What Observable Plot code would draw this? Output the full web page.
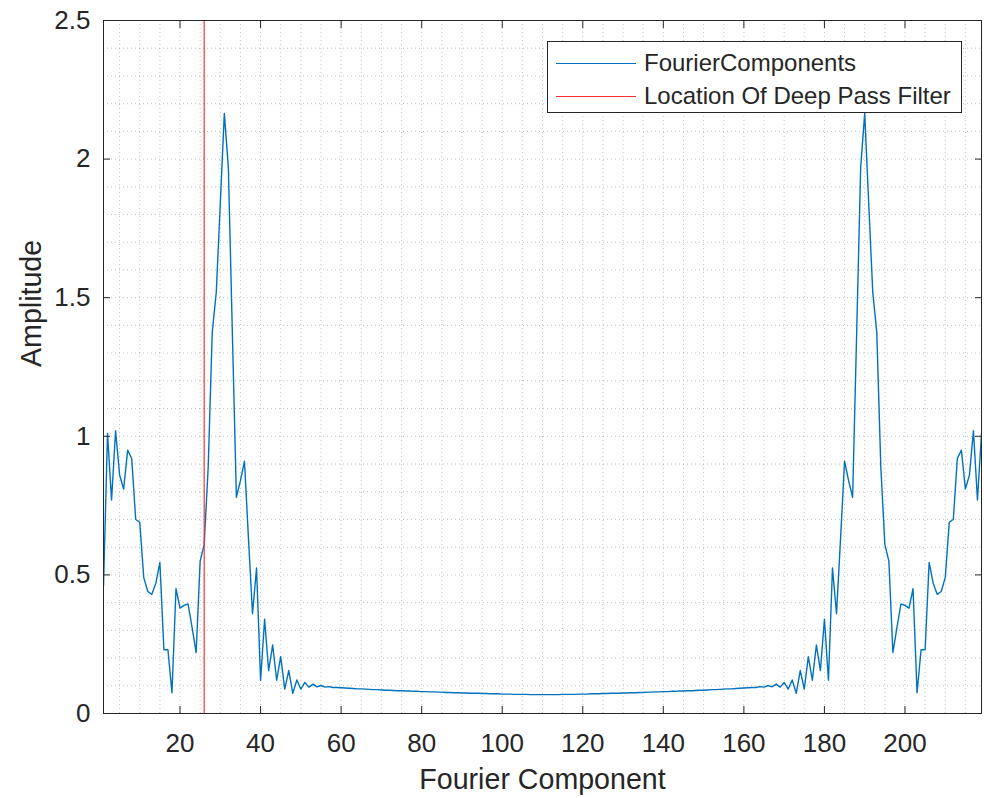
<!DOCTYPE html>
<html>
<head>
<meta charset="utf-8">
<script src="https://cdn.jsdelivr.net/npm/d3@7"></script>
<script src="https://cdn.jsdelivr.net/npm/@observablehq/plot@0.6"></script>
<style>
  html, body { margin: 0; padding: 0; background: #fff; }
  #wrap { position: relative; width: 984px; height: 798px; font-family: "Liberation Sans", Arial, Helvetica, sans-serif; color: #262626; }
  #legend { position: absolute; left: 547px; top: 41px; width: 413px; height: 70px; border: 1px solid #262626; background: #fff; }
  .row { position: absolute; left: 0; height: 30px; display: flex; align-items: center; }
  .swatch { width: 80px; height: 0; margin-left: 8px; margin-right: 8px; }
  .lab { font-size: 24px; white-space: nowrap; }
</style>
</head>
<body>
<div id="wrap"></div>
<script>
// Fourier component amplitudes (component index 1..219)
const amplitude = [
  0.46, 1.01, 0.77, 1.02, 0.86, 0.81, 0.95, 0.92, 0.70, 0.69,
  0.49, 0.44, 0.43, 0.47, 0.545, 0.23, 0.23, 0.075, 0.45, 0.38,
  0.39, 0.395, 0.31, 0.22, 0.55, 0.61, 0.89, 1.375, 1.52, 1.84,
  2.165, 1.97, 1.37, 0.78, 0.84, 0.91, 0.63, 0.36, 0.525, 0.12,
  0.34, 0.155, 0.247, 0.12, 0.205, 0.088, 0.155, 0.073, 0.121, 0.088,
  0.112, 0.095, 0.106, 0.096, 0.101, 0.095, 0.097, 0.094, 0.094, 0.093,
  0.092, 0.091, 0.090, 0.089, 0.089, 0.088, 0.087, 0.086, 0.086, 0.085,
  0.084, 0.084, 0.083, 0.082, 0.082, 0.081, 0.081, 0.080, 0.080, 0.079,
  0.079, 0.078, 0.078, 0.077, 0.077, 0.076, 0.076, 0.075, 0.075, 0.074,
  0.074, 0.073, 0.073, 0.073, 0.072, 0.072, 0.071, 0.071, 0.071, 0.070,
  0.070, 0.070, 0.069, 0.069, 0.069, 0.069, 0.068, 0.068, 0.068, 0.068,
  0.068, 0.068, 0.068, 0.068, 0.069, 0.069, 0.069, 0.069, 0.070, 0.070,
  0.070, 0.071, 0.071, 0.071, 0.072, 0.072, 0.073, 0.073, 0.073, 0.074,
  0.074, 0.075, 0.075, 0.076, 0.076, 0.077, 0.077, 0.078, 0.078, 0.079,
  0.079, 0.080, 0.080, 0.081, 0.081, 0.082, 0.082, 0.083, 0.084, 0.084,
  0.085, 0.086, 0.086, 0.087, 0.088, 0.089, 0.089, 0.090, 0.091, 0.092,
  0.093, 0.094, 0.094, 0.097, 0.095, 0.101, 0.096, 0.106, 0.095, 0.112,
  0.088, 0.121, 0.073, 0.155, 0.088, 0.205, 0.12, 0.247, 0.155, 0.34,
  0.12, 0.525, 0.36, 0.63, 0.91, 0.84, 0.78, 1.37, 1.97, 2.165,
  1.84, 1.52, 1.375, 0.89, 0.61, 0.55, 0.22, 0.31, 0.395, 0.39,
  0.38, 0.45, 0.075, 0.23, 0.23, 0.545, 0.47, 0.43, 0.44, 0.49,
  0.69, 0.70, 0.92, 0.95, 0.81, 0.86, 1.02, 0.77, 1.01
];
const filterLocation = [26];
const xTicks = [20, 40, 60, 80, 100, 120, 140, 160, 180, 200];
const xMinor = [5,10,15,20,25,30,35,40,45,50,55,60,65,70,75,80,85,90,95,100,105,110,115,120,125,130,135,140,145,150,155,160,165,170,175,180,185,190,195,200,205,210,215];
const yTicks = [0, 0.5, 1, 1.5, 2, 2.5];
const yTickLabels = ["0", "0.5", "1", "1.5", "2", "2.5"];
const yMinor = [0.1,0.2,0.3,0.4,0.5,0.6,0.7,0.8,0.9,1.0,1.1,1.2,1.3,1.4,1.5,1.6,1.7,1.8,1.9,2.0,2.1,2.2,2.3,2.4];
const seriesNames = ["FourierComponents", "Location Of Deep Pass Filter"];
const seriesColors = ["#0072BD", "#ff3030"];

const data = amplitude.map((v, i) => ({k: i + 1, v}));
const axisColor = "#262626";

const chart = Plot.plot({
  width: 984,
  height: 798,
  marginLeft: 103,
  marginRight: 3,
  marginTop: 20,
  marginBottom: 85,
  style: {fontFamily: '"Liberation Sans", Arial, Helvetica, sans-serif', fontSize: "26px", color: axisColor, background: "#fff"},
  x: {domain: [1, 219]},
  y: {domain: [0, 2.5]},
  marks: [
    Plot.gridX(xMinor, {stroke: "#9a9a9a", strokeOpacity: 0.6, strokeDasharray: "1,3"}),
    Plot.gridY(yMinor, {stroke: "#9a9a9a", strokeOpacity: 0.6, strokeDasharray: "1,3"}),
    Plot.lineY(data, {x: "k", y: "v", stroke: seriesColors[0], strokeWidth: 1.4, clip: true}),
    Plot.ruleX(filterLocation, {stroke: seriesColors[1], strokeWidth: 1.2}),
    Plot.axisX(xTicks, {anchor: "bottom", tickSize: 7, dy: -7, fill: "none", label: null, stroke: axisColor}),
    Plot.axisX(xTicks, {anchor: "top", tickSize: 7, dy: 7, fill: "none", label: null, stroke: axisColor}),
    Plot.axisY(yTicks, {anchor: "left", tickSize: 7, dx: 7, fill: "none", label: null, stroke: axisColor}),
    Plot.axisY(yTicks, {anchor: "right", tickSize: 7, dx: -7, fill: "none", label: null, stroke: axisColor}),
    Plot.axisX(xTicks, {anchor: "bottom", tickSize: 0, tickPadding: 20, label: null, fontSize: 26, fill: axisColor}),
    Plot.axisY(yTicks, {anchor: "left", tickSize: 0, tickPadding: 13, label: null, fontSize: 26, fill: axisColor, tickFormat: (d, i) => yTickLabels[yTicks.indexOf(d)]}),
    Plot.frame({stroke: axisColor, strokeWidth: 1}),
    Plot.text(["Fourier Component"], {frameAnchor: "bottom", dy: 66, lineAnchor: "middle", fontSize: 28.6, fill: axisColor, text: d => d}),
    Plot.text(["Amplitude"], {frameAnchor: "left", dx: -72, rotate: -90, lineAnchor: "middle", fontSize: 28.6, fill: axisColor, text: d => d})
  ]
});

const wrap = document.getElementById("wrap");
wrap.appendChild(chart);

const legend = document.createElement("div");
legend.id = "legend";
seriesNames.forEach((name, i) => {
  const row = document.createElement("div");
  row.className = "row";
  row.style.top = (6 + i * 33) + "px";
  const sw = document.createElement("div");
  sw.className = "swatch";
  sw.style.borderTop = "1.4px solid " + seriesColors[i];
  const lab = document.createElement("span");
  lab.className = "lab";
  lab.textContent = name;
  row.appendChild(sw);
  row.appendChild(lab);
  legend.appendChild(row);
});
wrap.appendChild(legend);
</script>
</body>
</html>
